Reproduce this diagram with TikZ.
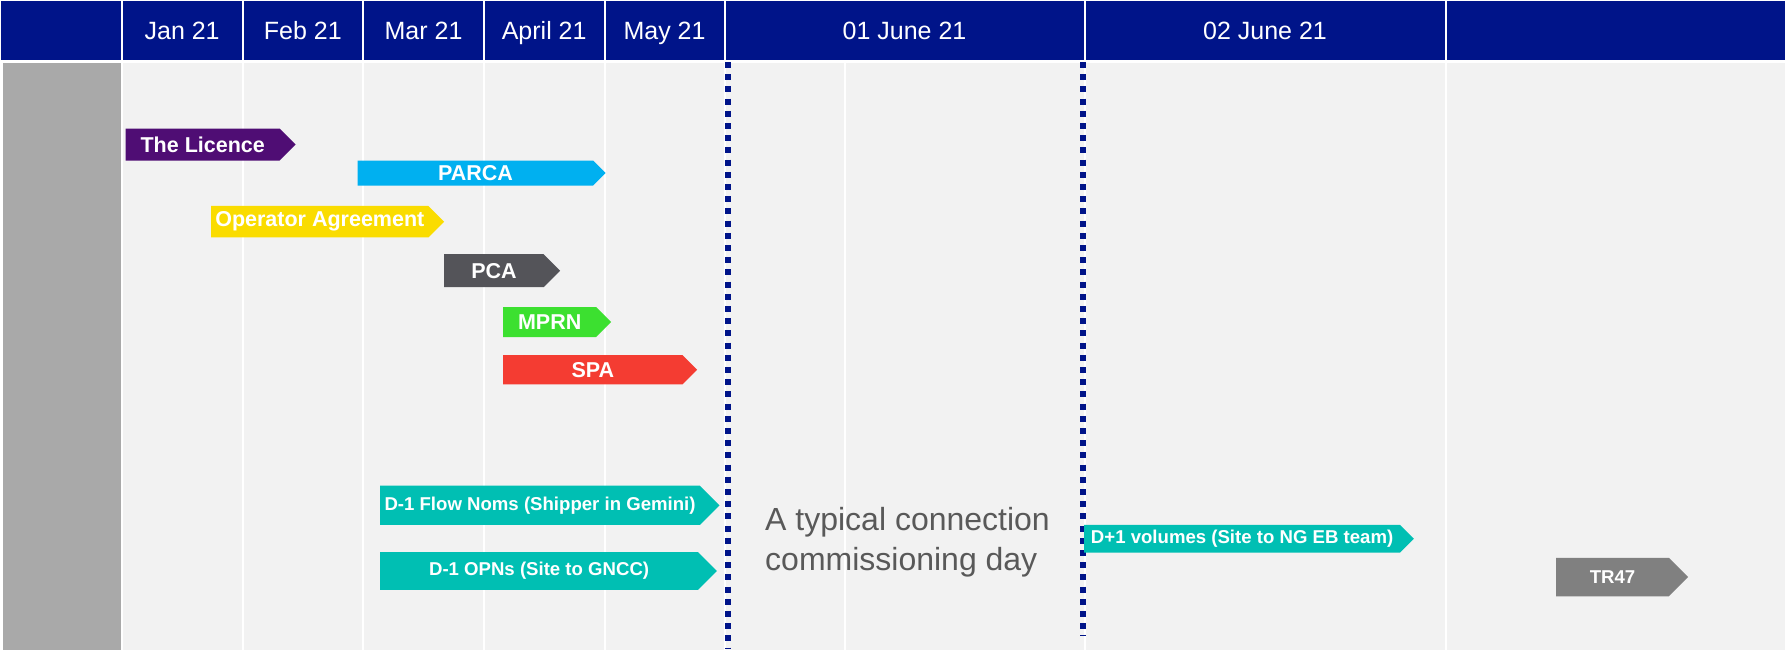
\documentclass[tikz,border=0pt]{standalone}
\usepackage{fontspec}
\setmainfont{Liberation Sans}
\usetikzlibrary{shapes.symbols,positioning}

\definecolor{ngblue}{RGB}{0,20,137}
\definecolor{bodybg}{RGB}{242,242,242}
\definecolor{sidegrey}{RGB}{169,169,169}
\definecolor{licpurple}{RGB}{79,13,116}
\definecolor{parcacyan}{RGB}{0,176,240}
\definecolor{opyellow}{RGB}{250,220,0}
\definecolor{pcagrey}{RGB}{84,84,89}
\definecolor{mprngreen}{RGB}{60,224,48}
\definecolor{spared}{RGB}{244,60,50}
\definecolor{nomteal}{RGB}{0,191,179}
\definecolor{trgrey}{RGB}{128,128,128}
\definecolor{notegrey}{RGB}{89,89,89}

\begin{document}
\begin{tikzpicture}[
    x=1pt, y=-1pt,
    hcell/.style={rectangle, fill=ngblue, text=white, minimum height=59, inner sep=0pt, text height=18, text depth=0pt, font=\fontsize{25}{30}\selectfont},
    bar/.style={signal, signal to=east, signal pointer angle=90, inner sep=0pt, anchor=west, text=white, font=\bfseries\fontsize{21.5}{25}\selectfont},
    smallbar/.style={bar, font=\bfseries\fontsize{18.6}{22}\selectfont},
    dayline/.style={ngblue, line width=6pt, dash pattern=on 6pt off 6.2pt}
  ]
    \useasboundingbox (0,0) rectangle (1785,649);
    \fill[white] (0,0) rectangle (1785,649);

    % Header row
    \foreach \l/\r/\txt/\id in {0/121.8//lbl, 121.8/242.5/Jan 21/jan, 242.5/363.2/Feb 21/feb,
        363.2/483.9/Mar 21/mar, 483.9/604.5/April 21/apr, 604.5/724.6/May 21/may,
        724.6/1084.5/01 June 21/juneone, 1084.5/1445.5/02 June 21/junetwo, 1445.5/1787//last}
      \node[hcell, minimum width={\r-\l-2}] (h\id) at ({(\l+\r)/2},30.5) {\txt};

    % Body columns
    \fill[sidegrey] (3,63) rectangle (120.8,650);
    \foreach \l/\r in {121.8/242.5, 242.5/363.2, 363.2/483.9, 483.9/604.5, 604.5/724.6,
        724.6/845, 845/1084.5, 1084.5/1445.5, 1445.5/1787}
      \fill[bodybg] ({\l+1},63) rectangle ({\r-1},650);

    % Day markers
    \draw[dayline] (727.8,62) -- (727.8,649);
    \draw[dayline] (1083,62) -- (1083,636);

    % Activities
    \node[bar, fill=licpurple, minimum width=170, minimum height=32] (licence) at (125.5,144.5) {The Licence};
    \node[bar, fill=parcacyan, minimum width=248, minimum height=25] (parca) at (357.5,173) {PARCA};
    \node[bar, fill=opyellow, minimum width=233, minimum height=31.5] (opagree) at (211,221.7) {Operator Agreement};
    \node[bar, fill=pcagrey, minimum width=116, minimum height=33] (pca) at (444,270.7) {PCA};
    \node[bar, fill=mprngreen, minimum width=108, minimum height=30] (mprn) at (503,322) {MPRN};
    \node[bar, fill=spared, minimum width=194, minimum height=29.3] (spa) at (503,369.7) {SPA};
    \node[smallbar, fill=nomteal, minimum width=339.3, minimum height=39.3] (flownoms) at (380,505.3) {D-1 Flow Noms (Shipper in Gemini)};
    \node[smallbar, fill=nomteal, minimum width=336.7, minimum height=37.7] (opns) at (380,571) {D-1 OPNs (Site to GNCC)};
    \node[smallbar, fill=nomteal, minimum width=329.7, minimum height=27.7] (dvol) at (1084,538.8) {D+1 volumes (Site to NG EB team)};
    \node[smallbar, fill=trgrey, minimum width=132, minimum height=38.5] (tr47) at (1556,577) {TR47};

    % Note
    \node[anchor=west, align=left, inner sep=0pt, text=notegrey, font=\fontsize{32}{40}\selectfont] (typday) at (765,542.5) {A typical connection\\commissioning day};
  \end{tikzpicture}
\end{document}
